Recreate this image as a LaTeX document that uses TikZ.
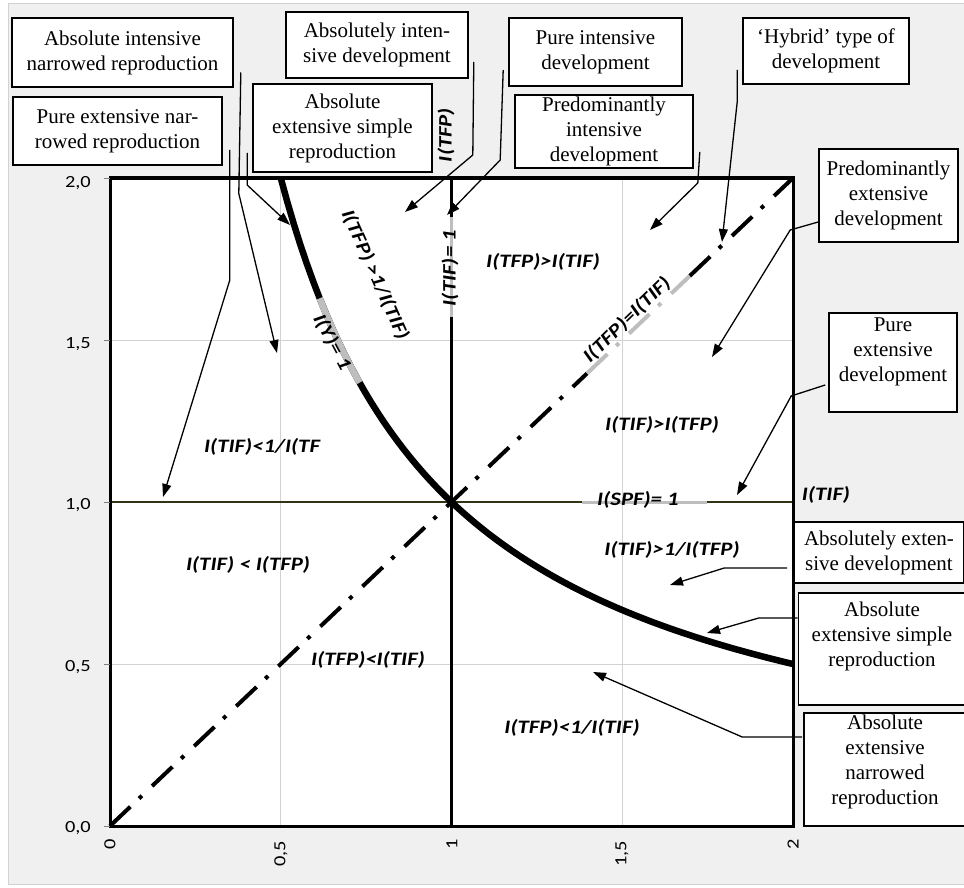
\documentclass[tikz,border=0pt]{standalone}
\usepackage{fontspec}
\setmainfont{Liberation Serif}
\newfontfamily\chartfont[FakeStretch=1.2]{Carlito}
\usetikzlibrary{arrows.meta}

\begin{document}
\begin{tikzpicture}[x=1pt, y=-1pt,
    textbox/.style={draw, line width=1.6pt, fill=white, align=center, inner sep=2pt,
      font=\fontsize{21}{25}\selectfont},
    chartlabel/.style={font=\chartfont\bfseries\itshape\fontsize{19}{21}\selectfont, inner sep=1pt},
    ticklabel/.style={font=\chartfont\fontsize{17}{19}\selectfont, inner sep=1pt},
    pointer/.style={line width=1.3pt, -{Triangle[length=13pt,width=9pt]}},
    diagline/.style={line width=4pt, dash pattern=on 28pt off 12pt on 4pt off 14pt}]
  % Couleurs
  \definecolor{lightback}{RGB}{240,240,240}
  \definecolor{gridgray}{RGB}{210,210,210}
  \definecolor{highlight}{RGB}{190,190,190}
  \definecolor{axisolive}{RGB}{50,50,20}

  \useasboundingbox (0,0) rectangle (964,888);
  \fill[white] (0,0) rectangle (964,888);
  \draw[fill=lightback, draw=gridgray, line width=1pt] (8,4) rectangle (975,884);

  % --- Zone du graphique ---
  \fill[white] (110,178) rectangle (793,826);
  \begin{scope}[shift={(110,826)}, x=341.5pt, y=324pt]
    % grille
    \draw[gridgray, line width=1pt] (0.5,0) -- (0.5,2) (1.5,0) -- (1.5,2)
      (0,0.5) -- (2,0.5) (0,1.5) -- (2,1.5);
    % I(SPF) = 1
    \draw[axisolive, line width=2pt] (0,1) -- (2,1);
    \draw[highlight, line width=3pt] (1.382,1) -- (1.748,1);
    % I(TIF) = 1
    \draw[line width=3pt] (1,0) -- (1,2);
    \draw[highlight, line width=3pt] (1,1.571) -- (1,1.880);
    % I(TFP) = I(TIF)
    \draw[diagline] (0,0) -- (1.397,1.397);
    \draw[diagline, highlight] (1.397,1.397) -- (1.698,1.698);
    \draw[diagline] (1.698,1.698) -- (2,2);
    % I(Y) = 1
    \draw[line width=6.5pt, domain=0.5:2, samples=80] plot (\x,{1/\x});
    \draw[highlight, line width=6.5pt, domain=0.614:0.731, samples=20] plot (\x,{1/\x});
    % cadre et graduations
    \draw[line width=3pt] (0,0) rectangle (2,2);
    \draw[gray, line width=1pt] (-0.018,0) -- (0,0) (-0.018,0.5) -- (0,0.5)
      (-0.018,1) -- (0,1) (-0.018,1.5) -- (0,1.5) (-0.018,2) -- (0,2);
  \end{scope}

  % Graduations
  \node[ticklabel, anchor=east] (y20) at (92,183) {2,0};
  \node[ticklabel, anchor=east] (y15) at (92,344) {1,5};
  \node[ticklabel, anchor=east] (y10) at (92,505) {1,0};
  \node[ticklabel, anchor=east] (y05) at (92,667) {0,5};
  \node[ticklabel, anchor=east] (y00) at (92,828) {0,0};
  \node[ticklabel, rotate=90, anchor=east] (x0) at (110,838) {0};
  \node[ticklabel, rotate=90, anchor=east] (x05) at (281,840) {0,5};
  \node[ticklabel, rotate=90, anchor=east] (x1) at (452,838) {1};
  \node[ticklabel, rotate=90, anchor=east] (x15) at (622,840) {1,5};
  \node[ticklabel, rotate=90, anchor=east] (x2) at (793,838) {2};

  % Libellés du graphique
  \node[chartlabel, rotate=90] (axeTFP) at (446,135) {I(TFP)};
  \node[chartlabel] (axeTIF) at (826,495) {I(TIF)};
  \node[chartlabel, rotate=90] (tifone) at (450,268) {I(TIF)= 1};
  \node[chartlabel, rotate=-66] (tfpgtinv) at (375,275) {I(TFP) >1/I(TIF)};
  \node[chartlabel, rotate=-62] (yone) at (332,342) {I(Y)= 1};
  \node[chartlabel, rotate=44] (tfpeq) at (627,320) {I(TFP)=I(TIF)};
  \node[chartlabel] (tfpgt) at (543,262) {I(TFP)>I(TIF)};
  \node[chartlabel] (tifgt) at (662,425) {I(TIF)>I(TFP)};
  \node[chartlabel] (tifltinv) at (262,447) {I(TIF)<1/I(TF};
  \node[chartlabel] (giflt) at (248,565) {I(TIF) < I(TFP)};
  \node[chartlabel] (tfplt) at (368,660) {I(TFP)<I(TIF)};
  \node[chartlabel] (spfone) at (638,500) {I(SPF)= 1};
  \node[chartlabel] (tifgtinv) at (672,550) {I(TIF)>1/I(TFP)};
  \node[chartlabel] (tfpltinv) at (572,728) {I(TFP)<1/I(TIF)};

  % --- Cadres de texte ---
  \node[textbox, minimum width=221pt, minimum height=69pt] (absIntNarrow) at (122.5,52.5)
    {Absolute intensive\\narrowed reproduction};
  \node[textbox, minimum width=209pt, minimum height=68pt] (pureExtNarrow) at (117.5,131)
    {Pure extensive nar-\\rowed reproduction};
  \node[textbox, minimum width=182pt, minimum height=66pt] (absIntDev) at (377,45)
    {Absolutely inten-\\sive development};
  \node[textbox, minimum width=179pt, minimum height=88pt] (absExtSimpleTop) at (342.5,128)
    {Absolute\\extensive simple\\reproduction};
  \node[textbox, minimum width=173pt, minimum height=68pt] (pureIntDev) at (595.5,52)
    {Pure intensive\\development};
  \node[textbox, minimum width=178pt, minimum height=69pt] (predIntDev) at (604,131.5)
    {Predominantly\\intensive\\development};
  \node[textbox, minimum width=166pt, minimum height=66pt] (hybridDev) at (826,51)
    {`Hybrid' type of\\development};
  \node[textbox, minimum width=139pt, minimum height=93pt] (predExtDev) at (888.5,195.5)
    {Predominantly\\extensive\\development};
  \node[textbox, minimum width=128pt, minimum height=99pt, text depth=25pt] (pureExtDev) at (893,362.5)
    {Pure\\extensive\\development};
  \node[textbox, minimum width=170pt, minimum height=61pt] (absExtDev) at (879,552.5)
    {Absolutely exten-\\sive development};
  \node[textbox, minimum width=167pt, minimum height=112pt, text depth=29pt] (absExtSimple) at (882,649)
    {Absolute\\extensive simple\\reproduction};
  \node[textbox, minimum width=162pt, minimum height=113pt, text depth=19pt] (absExtNarrow) at (885,769.5)
    {Absolute\\extensive\\narrowed\\reproduction};

  % --- Flèches ---
  \coordinate (tipA) at (277,353);
  \coordinate (tipB) at (163,497);
  \coordinate (tipC) at (290,225);
  \coordinate (tipD) at (405,212);
  \coordinate (tipE) at (447,215);
  \coordinate (tipF) at (650,230);
  \coordinate (tipG) at (722,242);
  \coordinate (tipH) at (712,357);
  \coordinate (tipI) at (737,495);
  \coordinate (tipJ) at (670,585);
  \coordinate (tipK) at (707,633);
  \coordinate (tipL) at (593,672);

  \draw[pointer] ([xshift=7pt,yshift=-20pt]absIntNarrow.east) -- ++(-2,121) -- (tipA);
  \draw[pointer] ([xshift=7pt,yshift=-19pt]pureExtNarrow.east) -- ++(0,130) -- (tipB);
  \draw[pointer] ([xshift=-5pt,yshift=-25pt]absExtSimpleTop.west) -- ++(0,32) -- (tipC);
  \draw[pointer] ([xshift=5pt,yshift=-17pt]absIntDev.east) -- ++(-1,93) -- (tipD);
  \draw[pointer] ([xshift=-5pt,yshift=-18pt]pureIntDev.west) -- ++(-3,90) -- (tipE);
  \draw[pointer] ([xshift=6pt,yshift=-20.5pt]predIntDev.east) -- ++(-2,31) -- (tipF);
  \draw[pointer] ([xshift=-5pt,yshift=-19pt]hybridDev.west) -- ++(0,32) -- (tipG);
  \draw[pointer] ([yshift=-26.5pt]predExtDev.west) -- ++(-28,8) -- (tipH);
  \draw[pointer] ([xshift=-3pt,yshift=-22.5pt]pureExtDev.west) -- ++(-34,11) -- (tipI);
  \draw[pointer] ([xshift=-6pt,yshift=-15.5pt]absExtDev.west) -- ++(-63,0) -- (tipJ);
  \draw[pointer] ([yshift=31pt]absExtSimple.west) -- ++(-39,0) -- (tipK);
  \draw[pointer] ([xshift=-1pt,yshift=32.5pt]absExtNarrow.west) -- ++(-60,0) -- (tipL);
\end{tikzpicture}
\end{document}
